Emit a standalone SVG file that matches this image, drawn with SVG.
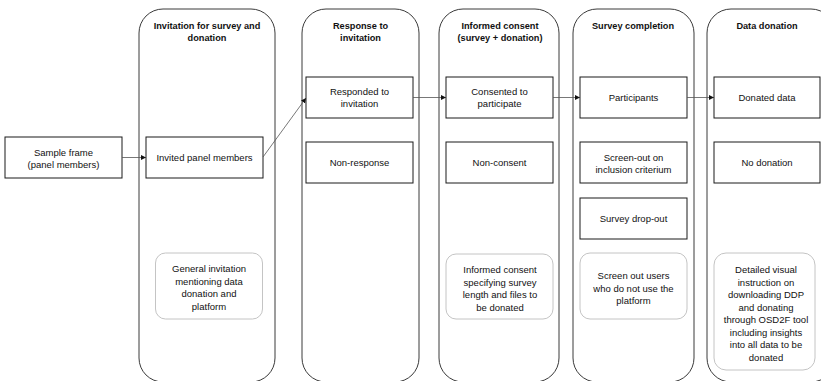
<svg xmlns="http://www.w3.org/2000/svg" width="821" height="381" viewBox="0 0 821 381">
<defs>
<style>
.lane{fill:#fff;stroke:#3a3a3a;stroke-width:1}
.box{fill:#fff;stroke:#1a1a1a;stroke-width:1}
.note{fill:#fff;stroke:#c4c4c4;stroke-width:1}
.t{font-family:"Liberation Sans",Arial,sans-serif;font-size:9.5px;fill:#111;text-anchor:middle}
.h{font-family:"Liberation Sans",Arial,sans-serif;font-size:9.2px;font-weight:bold;fill:#111;text-anchor:middle}
.c{stroke:#555;stroke-width:0.8;fill:none}
</style>
<marker id="ah" markerWidth="6" markerHeight="6" refX="5" refY="3" orient="auto" markerUnits="userSpaceOnUse">
<path d="M0,0.5 L5,3 L0,5.5 Z" fill="#111"/>
</marker>
</defs>
<rect width="821" height="381" fill="#fff"/>
<g id="lane1"><rect class="lane" x="139" y="9" width="136" height="373" rx="24"/><text class="h" x="207" y="29">Invitation for survey and</text><text class="h" x="207" y="41">donation</text></g>
<g id="lane2"><rect class="lane" x="302" y="9" width="117" height="373" rx="24"/><text class="h" x="360.5" y="29">Response to</text><text class="h" x="360.5" y="41">invitation</text></g>
<g id="lane3"><rect class="lane" x="439" y="9" width="120" height="373" rx="24"/><text class="h" x="500" y="29">Informed consent</text><text class="h" x="500" y="41">(survey + donation)</text></g>
<g id="lane4"><rect class="lane" x="573" y="9" width="121" height="373" rx="24"/><text class="h" x="633" y="29">Survey completion</text></g>
<g id="lane5"><rect class="lane" x="707" y="9" width="128" height="373" rx="24"/><text class="h" x="767" y="29">Data donation</text></g>

<g id="sample-frame"><rect class="box" x="5" y="137" width="117" height="41"/><text class="t" x="63.5" y="156">Sample frame</text><text class="t" x="63.5" y="168">(panel members)</text></g>
<g id="invited"><rect class="box" x="146" y="137" width="117" height="41"/><text class="t" x="204.5" y="161">Invited panel members</text></g>
<g id="responded"><rect class="box" x="306" y="77" width="107" height="41"/><text class="t" x="359.5" y="95">Responded to</text><text class="t" x="359.5" y="107">invitation</text></g>
<g id="non-response"><rect class="box" x="306" y="142" width="107" height="41"/><text class="t" x="359.5" y="166">Non-response</text></g>
<g id="consented"><rect class="box" x="446" y="77" width="107" height="41"/><text class="t" x="499.5" y="95">Consented to</text><text class="t" x="499.5" y="107">participate</text></g>
<g id="non-consent"><rect class="box" x="446" y="142" width="107" height="41"/><text class="t" x="499.5" y="166">Non-consent</text></g>
<g id="participants"><rect class="box" x="580" y="77" width="107" height="41"/><text class="t" x="633.5" y="101">Participants</text></g>
<g id="screen-out"><rect class="box" x="580" y="142" width="107" height="41"/><text class="t" x="633.5" y="161">Screen-out on</text><text class="t" x="633.5" y="173">inclusion criterium</text></g>
<g id="drop-out"><rect class="box" x="580" y="198" width="107" height="41"/><text class="t" x="633.5" y="222">Survey drop-out</text></g>
<g id="donated"><rect class="box" x="714" y="77" width="106" height="41"/><text class="t" x="767" y="101">Donated data</text></g>
<g id="no-donation"><rect class="box" x="714" y="142" width="106" height="41"/><text class="t" x="767" y="166">No donation</text></g>

<g id="note1"><rect class="note" x="155.5" y="253" width="107" height="66" rx="10"/><text class="t" x="209" y="272">General invitation</text><text class="t" x="209" y="284.5">mentioning data</text><text class="t" x="209" y="297">donation and</text><text class="t" x="209" y="309.5">platform</text></g>
<g id="note3"><rect class="note" x="446" y="254" width="107" height="65" rx="10"/><text class="t" x="500" y="273">Informed consent</text><text class="t" x="500" y="285.5">specifying survey</text><text class="t" x="500" y="298">length and files to</text><text class="t" x="500" y="310.5">be donated</text></g>
<g id="note4"><rect class="note" x="580" y="253" width="107" height="66" rx="10"/><text class="t" x="633.5" y="279">Screen out users</text><text class="t" x="633.5" y="291.5">who do not use the</text><text class="t" x="633.5" y="304">platform</text></g>
<g id="note5"><rect class="note" x="714" y="253" width="101" height="117" rx="12"/><text class="t" x="766" y="273">Detailed visual</text><text class="t" x="766" y="285.5">instruction on</text><text class="t" x="766" y="298">downloading DDP</text><text class="t" x="766" y="310.5">and donating</text><text class="t" x="766" y="323">through OSD2F tool</text><text class="t" x="766" y="335.5">including insights</text><text class="t" x="766" y="348">into all data to be</text><text class="t" x="766" y="360.5">donated</text></g>

<g id="connectors">
<line class="c" x1="122" y1="157.5" x2="146" y2="157.5" marker-end="url(#ah)"/>
<line class="c" x1="263" y1="157" x2="306" y2="98" marker-end="url(#ah)"/>
<line class="c" x1="413" y1="97.5" x2="446" y2="97.5" marker-end="url(#ah)"/>
<line class="c" x1="553" y1="97.5" x2="580" y2="97.5" marker-end="url(#ah)"/>
<line class="c" x1="687" y1="97.5" x2="714" y2="97.5" marker-end="url(#ah)"/>
</g>
</svg>
